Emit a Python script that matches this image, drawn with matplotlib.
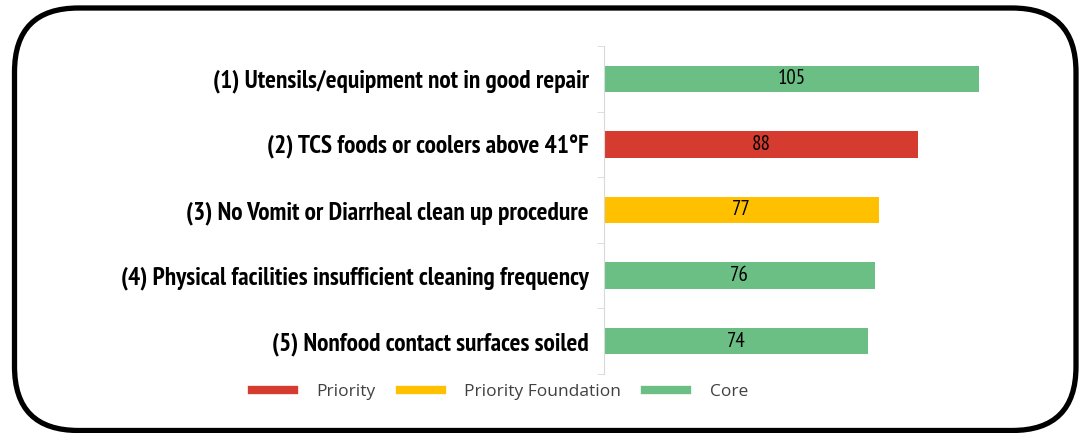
import matplotlib.pyplot as plt
from matplotlib.patches import FancyBboxPatch
from matplotlib.lines import Line2D

categories = [
    "(1) Utensils/equipment not in good repair",
    "(2) TCS foods or coolers above 41°F",
    "(3) No Vomit or Diarrheal clean up procedure",
    "(4) Physical facilities insufficient cleaning frequency",
    "(5) Nonfood contact surfaces soiled",
]
counts = [105, 88, 77, 76, 74]
kinds = ["Core", "Priority", "Priority Foundation", "Core", "Core"]

legend_order = ["Priority", "Priority Foundation", "Core"]
colors = {"Priority": "#D63B30", "Priority Foundation": "#FFC000", "Core": "#6BBF85"}

narrow = ["PT Sans Narrow", "Roboto Condensed", "DejaVu Sans"]
plain = ["Open Sans", "DejaVu Sans"]

fig = plt.figure(figsize=(10.83, 4.33), dpi=100)

# rounded frame around the whole chart, in inches
frame = FancyBboxPatch((0.145, 0.025), 10.615, 4.225,
                       boxstyle="round,pad=0,rounding_size=0.64",
                       transform=fig.dpi_scale_trans, facecolor="none",
                       edgecolor="black", linewidth=3.8, zorder=0)
fig.patches.append(frame)

ax = fig.add_axes([604 / 1083, 59 / 433, 450 / 1083, 328 / 433])
ax.patch.set_visible(False)

ypos = list(range(len(categories)))[::-1]
ax.barh(ypos, counts, height=0.4, color=[colors[k] for k in kinds])
for y, v in zip(ypos, counts):
    ax.text(v / 2, y, str(v), ha="center", va="center", fontsize=15,
            family=narrow, color="black")

ax.set_xlim(0, 126)
ax.set_ylim(-0.5, len(categories) - 0.5)
ax.set_yticks(ypos)
ax.set_yticklabels(categories, fontsize=18.3, fontweight="bold", family=narrow)
ax.set_yticks([i - 0.5 for i in range(len(categories) + 1)], minor=True)
ax.tick_params(axis="y", which="major", length=0, pad=11)
ax.tick_params(axis="y", which="minor", length=5, color="#D9D9D9", direction="out")
ax.set_xticks([])
for s in ["top", "right", "bottom"]:
    ax.spines[s].set_visible(False)
ax.spines["left"].set_color("#D9D9D9")

handles = [Line2D([0], [0], color=colors[k], lw=6) for k in legend_order]
fig.legend(handles, legend_order, loc="center", bbox_to_anchor=(500 / 1083, 1 - 392 / 433),
           ncol=3, frameon=False, prop={"family": plain, "size": 12.5}, handlelength=2.4,
           columnspacing=1.4, handletextpad=1.3, labelcolor="#404040")

fig.savefig("out.png", dpi=100)
